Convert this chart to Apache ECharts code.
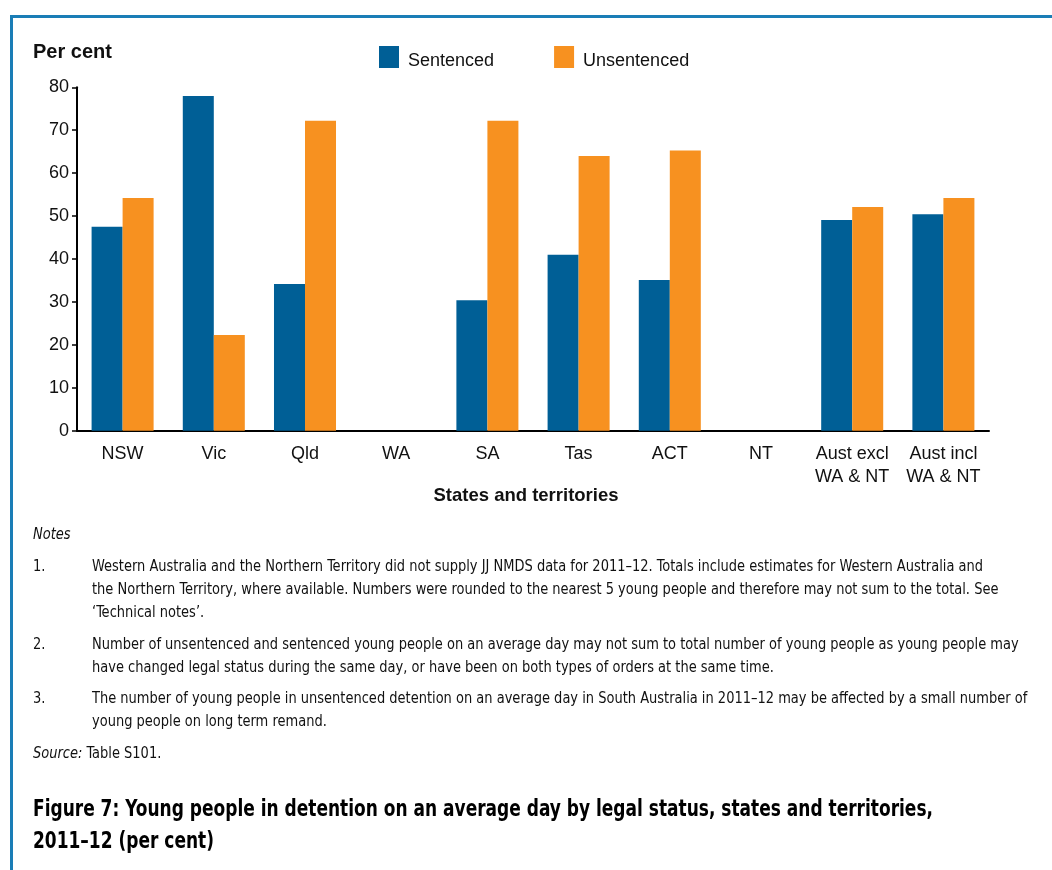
<!DOCTYPE html>
<html>
<head>
<meta charset="utf-8">
<title>Young people in detention by legal status</title>
<script src="https://cdn.jsdelivr.net/npm/echarts@6/dist/echarts.min.js"></script>
<style>
  html, body { margin: 0; padding: 0; background: #ffffff; }
  #chart { width: 1052px; height: 870px; }
</style>
</head>
<body>
<div id="chart"></div>
<script>
// Jurisdictions along the x axis (WA and NT supplied no data)
const categories = ['NSW', 'Vic', 'Qld', 'WA', 'SA', 'Tas', 'ACT', 'NT', 'Aust excl\nWA & NT', 'Aust incl\nWA & NT'];
// Per cent of young people in detention on an average day
const sentenced   = [47.5, 78.0, 34.2, null, 30.4, 41.0, 35.1, null, 49.1, 50.4];
const unsentenced = [54.2, 22.3, 72.2, null, 72.2, 64.0, 65.3, null, 52.1, 54.2];
const yTicks = [0, 10, 20, 30, 40, 50, 60, 70, 80];

const notes = [
  ['1.', ['Western Australia and the Northern Territory did not supply JJ NMDS data for 2011\u201312. Totals include estimates for Western Australia and',
          'the Northern Territory, where available. Numbers were rounded to the nearest 5 young people and therefore may not sum to the total. See',
          '\u2018Technical notes\u2019.']],
  ['2.', ['Number of unsentenced and sentenced young people on an average day may not sum to total number of young people as young people may',
          'have changed legal status during the same day, or have been on both types of orders at the same time.']],
  ['3.', ['The number of young people in unsentenced detention on an average day in South Australia in 2011\u201312 may be affected by a small number of',
          'young people on long term remand.']]
];
const titleLines = ['Figure 7: Young people in detention on an average day by legal status, states and territories,', '2011\u201312 (per cent)'];

const BLUE = '#005f96';
const ORANGE = '#f79120';
const FRAME = '#1a7db6';
const ARIAL = 'Liberation Sans, Arial, sans-serif';
const NARROW = '"DejaVu Sans Condensed", "Liberation Sans Narrow", sans-serif';
const NOTE_FONT = '15px ' + NARROW;
const TITLE_FONT = 'bold 23px ' + NARROW;

// Horizontal squeeze so the condensed face sets as narrow as the notes column
const measureCtx = document.createElement('canvas').getContext('2d');
function squeeze(font, text, width) {
  measureCtx.font = font;
  return width / measureCtx.measureText(text).width;
}
const noteScale = squeeze(NOTE_FONT, notes[0][1][0], 891);
const titleScale = squeeze(TITLE_FONT, titleLines[0], 900);

// Notes block under the chart
const noteGraphics = [];
noteGraphics.push({ type: 'text', x: 33, y: 528, scaleX: noteScale, style: { text: 'Notes', font: 'italic ' + NOTE_FONT, fill: '#111' } });
const noteTops = [556, 634, 688];
notes.forEach((n, i) => {
  noteGraphics.push({ type: 'text', x: 33, y: noteTops[i], scaleX: noteScale, style: { text: n[0], font: NOTE_FONT, lineHeight: 23, fill: '#111' } });
  noteGraphics.push({ type: 'text', x: 92, y: noteTops[i], scaleX: noteScale, style: { text: n[1].join('\n'), font: NOTE_FONT, lineHeight: 23, fill: '#111' } });
});
noteGraphics.push({
  type: 'text', x: 33, y: 747, scaleX: noteScale,
  style: {
    text: '{i|Source:} Table S101.',
    rich: { i: { font: 'italic ' + NOTE_FONT, fill: '#111' } },
    font: NOTE_FONT, fill: '#111'
  }
});
noteGraphics.push({
  type: 'text', x: 33, y: 794, scaleX: titleScale,
  style: { text: titleLines.join('\n'), font: TITLE_FONT, lineHeight: 32, fill: '#000' }
});

const chart = echarts.init(document.getElementById('chart'), null, { renderer: 'canvas' });
chart.setOption({
  backgroundColor: '#ffffff',
  animation: false,
  textStyle: { fontFamily: ARIAL },
  grid: { left: 77, right: 63, top: 87.3, bottom: 439.3, containLabel: false },
  legend: {
    left: 379, top: 46, padding: 0,
    itemWidth: 20, itemHeight: 22, itemGap: 60,
    icon: 'rect',
    formatter: name => '{t|' + name + '}',
    textStyle: {
      fontSize: 18, color: '#111', fontFamily: ARIAL,
      rich: { t: { fontSize: 18, color: '#111', fontFamily: ARIAL, padding: [9, 0, 0, 4] } }
    },
    data: ['Sentenced', 'Unsentenced']
  },
  xAxis: {
    type: 'category',
    data: categories,
    axisLine: { lineStyle: { color: '#000', width: 2 } },
    axisTick: { show: false },
    axisLabel: { fontSize: 18, color: '#111', lineHeight: 23, margin: 12, interval: 0, fontFamily: ARIAL }
  },
  yAxis: {
    type: 'value',
    min: yTicks[0], max: yTicks[yTicks.length - 1], interval: 10,
    axisLine: { show: true, lineStyle: { color: '#000', width: 2 } },
    axisTick: { show: true, length: 5, lineStyle: { color: '#000', width: 1.5 } },
    axisLabel: { fontSize: 18, color: '#111', margin: 8, fontFamily: ARIAL },
    splitLine: { show: false }
  },
  series: [
    { name: 'Sentenced', type: 'bar', data: sentenced, itemStyle: { color: BLUE }, barGap: '0%', barCategoryGap: '32%' },
    { name: 'Unsentenced', type: 'bar', data: unsentenced, itemStyle: { color: ORANGE }, barGap: '0%', barCategoryGap: '32%' }
  ],
  graphic: [
    // Frame along the top and left edges
    { type: 'rect', shape: { x: 10, y: 15, width: 1042, height: 3 }, style: { fill: FRAME } },
    { type: 'rect', shape: { x: 10, y: 15, width: 3, height: 855 }, style: { fill: FRAME } },
    { type: 'text', left: 33, top: 42, style: { text: 'Per cent', font: 'bold 20px ' + ARIAL, fill: '#111' } },
    { type: 'text', left: 'center', top: 486, style: { text: 'States and territories', font: 'bold 18.5px ' + ARIAL, fill: '#111' }, x: -2 }
  ].concat(noteGraphics)
});
</script>
</body>
</html>
